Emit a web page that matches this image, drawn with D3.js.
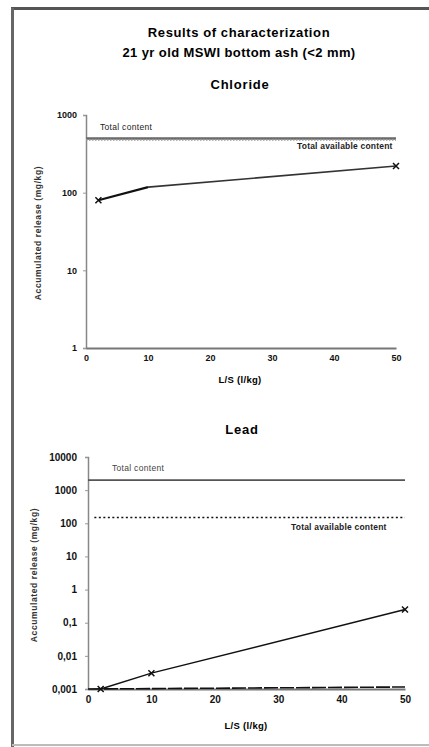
<!DOCTYPE html>
<html>
<head>
<meta charset="utf-8">
<script src="https://cdn.jsdelivr.net/npm/d3@7"></script>
<style>
  body { margin: 0; background: #fff; }
  text { font-family: "Liberation Sans", Arial, sans-serif; }
</style>
</head>
<body>
<script>
const width = 429;
const height = 747;

// chloride data
const clTicks = [1, 10, 100, 1000];
const clXTicks = [0, 10, 20, 30, 40, 50];
const clRelease = [[2, 80], [10, 118], [50, 220]];
const clTotal = [[0, 500], [50, 500]];
const clAvailable = [[0, 480], [50, 480]];

// lead data
const pbTicks = [0.001, 0.01, 0.1, 1, 10, 100, 1000, 10000];
const pbTickLabels = ["0,001", "0,01", "0,1", "1", "10", "100", "1000", "10000"];
const pbXTicks = [0, 10, 20, 30, 40, 50];
const pbRelease = [[2, 0.001], [10, 0.003], [50, 0.25]];
const pbLimit = [[0, 0.001], [50, 0.00115]];
const pbTotal = [[0, 2000], [50, 2000]];
const pbAvailable = [[1, 150], [50, 150]];

let svg = d3.select("body").append("svg").attr("width", width).attr("height", height);

// frame of the scanned page
svg.append("line").attr("x1", 11).attr("x2", width).attr("y1", 8.5).attr("y2", 8.5)
    .attr("stroke", "#555").attr("stroke-width", 3);
svg.append("line").attr("x1", 12.5).attr("x2", 12.5).attr("y1", 8).attr("y2", height)
    .attr("stroke", "#666").attr("stroke-width", 3);
svg.append("line").attr("x1", 12).attr("x2", width).attr("y1", 745).attr("y2", 745)
    .attr("stroke", "#bbb").attr("stroke-width", 2);

// titles
svg.append("text").attr("x", 239).attr("y", 37).attr("text-anchor", "middle")
    .attr("font-size", 13).attr("font-weight", "bold").attr("letter-spacing", 0.6)
    .text("Results of characterization");
svg.append("text").attr("x", 239).attr("y", 57).attr("text-anchor", "middle")
    .attr("font-size", 13).attr("font-weight", "bold").attr("letter-spacing", 0.4)
    .text("21 yr old MSWI bottom ash (<2 mm)");

function marker(g, x, y)
{
    const s = 3;
    g.append("path")
        .attr("d", `M${x - s},${y - s}L${x + s},${y + s}M${x - s},${y + s}L${x + s},${y - s}`)
        .attr("stroke", "#111").attr("stroke-width", 1.5);
}

function drawAxes(g, x, y, opts)
{
    // y axis
    let ya = g.append("g").attr("transform", `translate(${opts.x0},0)`)
        .call(d3.axisLeft(y).tickValues(opts.yTicks).tickSize(3).tickPadding(opts.yPad)
            .tickFormat((d, i) => opts.yLabels ? opts.yLabels[i] : d));
    ya.select(".domain").attr("stroke", "#888").attr("stroke-width", 1.5);
    ya.selectAll(".tick line").attr("stroke", "#999");
    ya.selectAll("text").attr("font-size", opts.fs).attr("font-weight", "bold")
        .attr("fill", "#111").style("font-family", "Liberation Sans, Arial, sans-serif");

    // x axis
    let xa = g.append("g").attr("transform", `translate(0,${opts.y0})`)
        .call(d3.axisBottom(x).tickValues(opts.xTicks).tickSize(0).tickPadding(7));
    xa.select(".domain").attr("stroke", "#777").attr("stroke-width", 2);
    xa.selectAll("text").attr("font-size", opts.fs).attr("font-weight", "bold")
        .attr("fill", "#111").style("font-family", "Liberation Sans, Arial, sans-serif");
}

// ---------- Chloride ----------
let cl = svg.append("g");
let clX = d3.scaleLinear().domain([0, 50]).range([86, 396]);
let clY = d3.scaleLog().domain([1, 1000]).range([348, 115]);
let clLine = d3.line().x(d => clX(d[0])).y(d => clY(d[1]));

cl.append("text").attr("x", 240).attr("y", 89).attr("text-anchor", "middle")
    .attr("font-size", 13).attr("font-weight", "bold").attr("letter-spacing", 0.8).text("Chloride");

drawAxes(cl, clX, clY, {x0: 86, y0: 348, yTicks: clTicks, xTicks: clXTicks, fs: 9, yPad: 6});

cl.append("path").datum(clTotal).attr("d", clLine).attr("fill", "none")
    .attr("stroke", "#666").attr("stroke-width", 2.5);
cl.append("path").datum(clAvailable).attr("d", clLine).attr("fill", "none")
    .attr("stroke", "#999").attr("stroke-width", 2).attr("stroke-dasharray", "1.5,1.5");
cl.append("path").datum(clRelease.slice(0, 2)).attr("d", clLine).attr("fill", "none")
    .attr("stroke", "#111").attr("stroke-width", 2.2);
cl.append("path").datum(clRelease.slice(1)).attr("d", clLine).attr("fill", "none")
    .attr("stroke", "#333").attr("stroke-width", 1.6);
marker(cl, clX(clRelease[0][0]), clY(clRelease[0][1]));
marker(cl, clX(clRelease[2][0]), clY(clRelease[2][1]));

cl.append("text").attr("x", 100).attr("y", 130).attr("font-size", 8.5)
    .attr("letter-spacing", 0.3).attr("fill", "#222").text("Total content");
cl.append("text").attr("x", 297).attr("y", 149).attr("font-size", 8.5).attr("font-weight", "bold")
    .attr("letter-spacing", 0.2).attr("fill", "#222").text("Total available content");

cl.append("text").attr("transform", "translate(41,233) rotate(-90)").attr("text-anchor", "middle")
    .attr("font-size", 8.5).attr("font-weight", "bold").attr("fill", "#333")
    .attr("letter-spacing", 0.6).text("Accumulated release (mg/kg)");
cl.append("text").attr("x", 240).attr("y", 383).attr("text-anchor", "middle")
    .attr("font-size", 9.5).attr("font-weight", "bold").attr("letter-spacing", 0.3).text("L/S (l/kg)");

// ---------- Lead ----------
let pb = svg.append("g");
let pbX = d3.scaleLinear().domain([0, 50]).range([88, 405]);
let pbY = d3.scaleLog().domain([0.001, 10000]).range([689, 457]);
let pbLine = d3.line().x(d => pbX(d[0])).y(d => pbY(d[1]));

pb.append("text").attr("x", 242).attr("y", 434).attr("text-anchor", "middle")
    .attr("font-size", 13).attr("font-weight", "bold").attr("letter-spacing", 0.8).text("Lead");

drawAxes(pb, pbX, pbY, {x0: 88, y0: 689, yTicks: pbTicks, yLabels: pbTickLabels,
    xTicks: pbXTicks, fs: 10, yPad: 8});

pb.append("path").datum(pbTotal).attr("d", pbLine).attr("fill", "none")
    .attr("stroke", "#555").attr("stroke-width", 1.6);
pb.append("path").datum(pbAvailable).attr("d", pbLine).attr("fill", "none")
    .attr("stroke", "#111").attr("stroke-width", 1.6).attr("stroke-dasharray", "2,2.5");
pb.append("path").datum(pbLimit).attr("d", pbLine).attr("fill", "none")
    .attr("stroke", "#111").attr("stroke-width", 1.6).attr("stroke-dasharray", "14,2");
pb.append("path").datum(pbRelease).attr("d", pbLine).attr("fill", "none")
    .attr("stroke", "#111").attr("stroke-width", 1.4);
pbRelease.forEach(d => marker(pb, pbX(d[0]), pbY(d[1])));

pb.append("text").attr("x", 112).attr("y", 471).attr("font-size", 8.5)
    .attr("letter-spacing", 0.3).attr("fill", "#444").text("Total content");
pb.append("text").attr("x", 291).attr("y", 530).attr("font-size", 8.5).attr("font-weight", "bold")
    .attr("letter-spacing", 0.2).attr("fill", "#222").text("Total available content");

pb.append("text").attr("transform", "translate(37,575) rotate(-90)").attr("text-anchor", "middle")
    .attr("font-size", 8.5).attr("font-weight", "bold").attr("fill", "#333")
    .attr("letter-spacing", 0.6).text("Accumulated release (mg/kg)");
pb.append("text").attr("x", 246).attr("y", 729).attr("text-anchor", "middle")
    .attr("font-size", 9.5).attr("font-weight", "bold").attr("letter-spacing", 0.3).text("L/S (l/kg)");
</script>
</body>
</html>
